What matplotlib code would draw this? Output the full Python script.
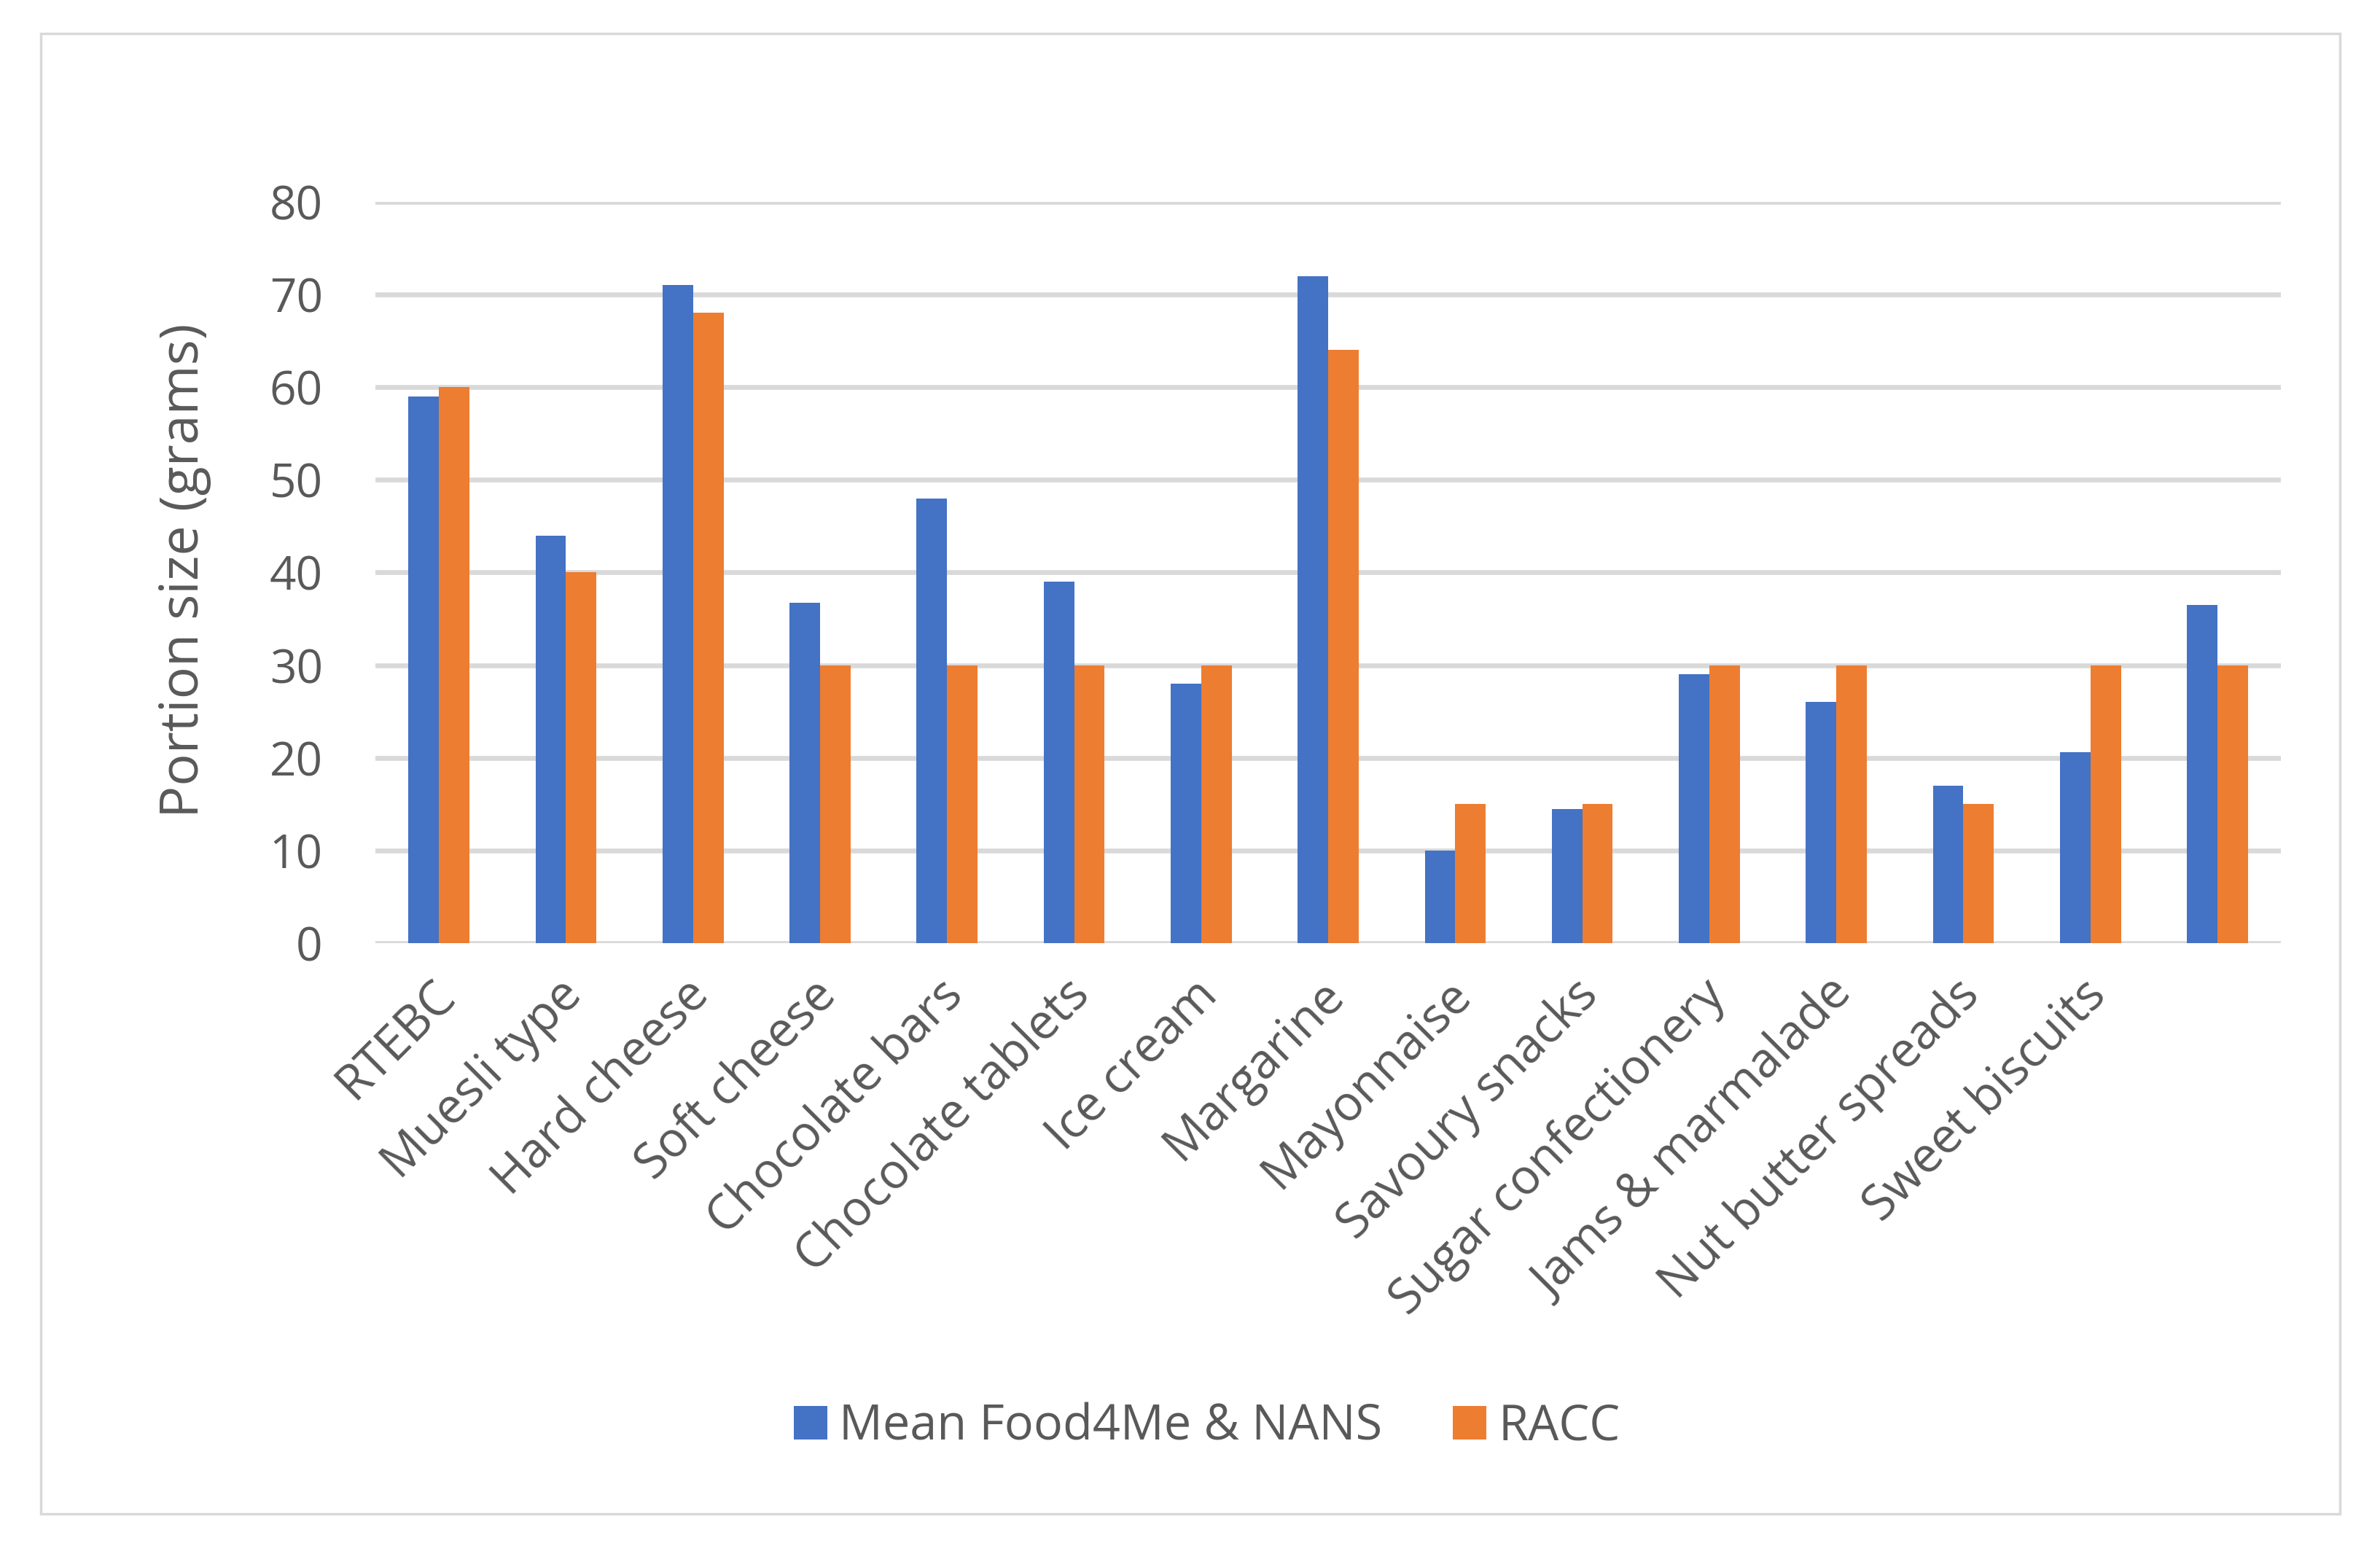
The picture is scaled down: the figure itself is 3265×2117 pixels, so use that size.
import matplotlib
matplotlib.use("Agg")
import matplotlib.pyplot as plt
import matplotlib.transforms as mtransforms
from matplotlib.patches import Rectangle
import numpy as np

# data
categories = ["RTEBC", "Muesli type", "Hard cheese", "Soft cheese", "Chocolate bars",
              "Chocolate tablets", "Ice cream", "Margarine", "Mayonnaise", "Savoury snacks",
              "Sugar confectionery", "Jams & marmalade", "Nut butter spreads",
              "Sweet biscuits", ""]
mean_food4me = [59, 44, 71, 36.7, 48, 39, 28, 72, 10, 14.5, 29, 26, 17, 20.6, 36.5]
racc = [60, 40, 68, 30, 30, 30, 30, 64, 15, 15, 30, 30, 15, 30, 30]
series_names = ["Mean Food4Me & NANS", "RACC"]
yticks = [0, 10, 20, 30, 40, 50, 60, 70, 80]

blue = "#4472C4"
orange = "#ED7D31"
grey_text = "#595959"
grid_col = "#D9D9D9"

plt.rcParams['font.family'] = ['Open Sans', 'DejaVu Sans']

fig = plt.figure(figsize=(32.66, 21.17), dpi=100)
ax = fig.add_axes([0.1577, 0.3888, 0.9581 - 0.1577, 0.8692 - 0.3888])

# outer chart frame
fig.patches.append(Rectangle((56 / 3266, 1 - 2077 / 2117), (3210 - 56) / 3266, (2077 - 46) / 2117,
                             transform=fig.transFigure, fill=False, edgecolor=grid_col, linewidth=2.5))

x = np.arange(len(categories))
w = 0.24
ax.bar(x - w / 2, mean_food4me, width=w, color=blue, label=series_names[0], zorder=3)
ax.bar(x + w / 2, racc, width=w, color=orange, label=series_names[1], zorder=3)

ax.set_xlim(-0.5, len(categories) - 0.5)
ax.set_ylim(0, 80)
ax.set_yticks(yticks)
ax.yaxis.grid(True, color=grid_col, linewidth=4.8, zorder=0)
ax.set_axisbelow(True)
for s in ax.spines.values():
    s.set_visible(False)

ax.tick_params(axis='y', length=0, pad=52, labelsize=46, labelcolor=grey_text)
ax.tick_params(axis='x', length=0, pad=30, labelsize=48, labelcolor=grey_text)
ax.set_xticks(x)
ax.set_xticklabels(categories, rotation=45, ha='right', va='top', rotation_mode='anchor')
shift = mtransforms.ScaledTranslation(-12 / 100, 4 / 100, fig.dpi_scale_trans)
for lab in ax.get_xticklabels():
    lab.set_transform(lab.get_transform() + shift)

fig.text(253 / 3266, 1 - 783 / 2117, "Portion size (grams)", rotation=90, ha='center', va='center',
         fontsize=53, color=grey_text)

leg = fig.legend(loc='center', bbox_to_anchor=(1656 / 3266, 1 - 1958 / 2117), ncol=2, frameon=False,
                 fontsize=48, handlelength=0.68, handleheight=0.68, handletextpad=0.25, columnspacing=1.45)
for t in leg.get_texts():
    t.set_color(grey_text)

fig.savefig("out.png", dpi=100)
